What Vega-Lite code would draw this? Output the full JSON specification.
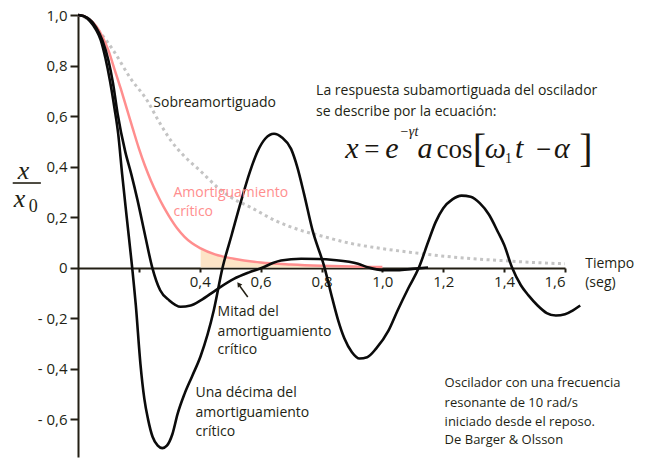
{
  "$schema": "https://vega.github.io/schema/vega-lite/v6.json",
  "width": 487,
  "height": 442,
  "autosize": {"type": "none"},
  "padding": {"left": 78, "top": 15, "right": 84, "bottom": 7},
  "background": "white",
  "config": {"view": {"stroke": null}, "font": "Open Sans"},
  "datasets": {
    "curves": [
      {"s": "sobre", "t": 0, "v": 1.0}, {"s": "sobre", "t": 0.03, "v": 0.985}, {"s": "sobre", "t": 0.073, "v": 0.93}, {"s": "sobre", "t": 0.116, "v": 0.86}, {"s": "sobre", "t": 0.172, "v": 0.75}, {"s": "sobre", "t": 0.228, "v": 0.66}, {"s": "sobre", "t": 0.265, "v": 0.58}, {"s": "sobre", "t": 0.304, "v": 0.505}, {"s": "sobre", "t": 0.35, "v": 0.44}, {"s": "sobre", "t": 0.4, "v": 0.385}, {"s": "sobre", "t": 0.459, "v": 0.317}, {"s": "sobre", "t": 0.5, "v": 0.28}, {"s": "sobre", "t": 0.568, "v": 0.238}, {"s": "sobre", "t": 0.65, "v": 0.185}, {"s": "sobre", "t": 0.733, "v": 0.147}, {"s": "sobre", "t": 0.8, "v": 0.125}, {"s": "sobre", "t": 0.898, "v": 0.095}, {"s": "sobre", "t": 1.0, "v": 0.075}, {"s": "sobre", "t": 1.096, "v": 0.06}, {"s": "sobre", "t": 1.228, "v": 0.042}, {"s": "sobre", "t": 1.3, "v": 0.035}, {"s": "sobre", "t": 1.4, "v": 0.027}, {"s": "sobre", "t": 1.5, "v": 0.02}, {"s": "sobre", "t": 1.6, "v": 0.015},
      {"s": "critico", "t": 0, "v": 1.0}, {"s": "critico", "t": 0.02, "v": 0.995}, {"s": "critico", "t": 0.04, "v": 0.98}, {"s": "critico", "t": 0.06, "v": 0.955}, {"s": "critico", "t": 0.08, "v": 0.915}, {"s": "critico", "t": 0.1, "v": 0.86}, {"s": "critico", "t": 0.12, "v": 0.785}, {"s": "critico", "t": 0.14, "v": 0.71}, {"s": "critico", "t": 0.16, "v": 0.63}, {"s": "critico", "t": 0.18, "v": 0.55}, {"s": "critico", "t": 0.2, "v": 0.472}, {"s": "critico", "t": 0.22, "v": 0.403}, {"s": "critico", "t": 0.24, "v": 0.343}, {"s": "critico", "t": 0.26, "v": 0.29}, {"s": "critico", "t": 0.28, "v": 0.243}, {"s": "critico", "t": 0.3, "v": 0.202}, {"s": "critico", "t": 0.325, "v": 0.157}, {"s": "critico", "t": 0.35, "v": 0.122}, {"s": "critico", "t": 0.375, "v": 0.096}, {"s": "critico", "t": 0.403, "v": 0.076}, {"s": "critico", "t": 0.45, "v": 0.052}, {"s": "critico", "t": 0.512, "v": 0.035}, {"s": "critico", "t": 0.6, "v": 0.02}, {"s": "critico", "t": 0.7, "v": 0.012}, {"s": "critico", "t": 0.8, "v": 0.007}, {"s": "critico", "t": 0.9, "v": 0.004}, {"s": "critico", "t": 1.0, "v": 0.002},
      {"s": "mitad", "t": 0, "v": 1.0}, {"s": "mitad", "t": 0.03, "v": 0.99}, {"s": "mitad", "t": 0.06, "v": 0.95}, {"s": "mitad", "t": 0.08, "v": 0.9}, {"s": "mitad", "t": 0.1, "v": 0.82}, {"s": "mitad", "t": 0.115, "v": 0.73}, {"s": "mitad", "t": 0.13, "v": 0.61}, {"s": "mitad", "t": 0.155, "v": 0.46}, {"s": "mitad", "t": 0.175, "v": 0.37}, {"s": "mitad", "t": 0.195, "v": 0.27}, {"s": "mitad", "t": 0.22, "v": 0.13}, {"s": "mitad", "t": 0.244, "v": 0.0}, {"s": "mitad", "t": 0.27, "v": -0.09}, {"s": "mitad", "t": 0.3, "v": -0.13}, {"s": "mitad", "t": 0.337, "v": -0.155}, {"s": "mitad", "t": 0.37, "v": -0.15}, {"s": "mitad", "t": 0.403, "v": -0.13}, {"s": "mitad", "t": 0.452, "v": -0.09}, {"s": "mitad", "t": 0.512, "v": -0.045}, {"s": "mitad", "t": 0.56, "v": -0.02}, {"s": "mitad", "t": 0.607, "v": 0.0}, {"s": "mitad", "t": 0.64, "v": 0.018}, {"s": "mitad", "t": 0.667, "v": 0.028}, {"s": "mitad", "t": 0.733, "v": 0.035}, {"s": "mitad", "t": 0.79, "v": 0.034}, {"s": "mitad", "t": 0.84, "v": 0.03}, {"s": "mitad", "t": 0.92, "v": 0.015}, {"s": "mitad", "t": 0.955, "v": 0.0}, {"s": "mitad", "t": 1.0, "v": -0.01}, {"s": "mitad", "t": 1.05, "v": -0.01}, {"s": "mitad", "t": 1.1, "v": -0.005}, {"s": "mitad", "t": 1.15, "v": 0.0},
      {"s": "decima", "t": 0, "v": 1.0}, {"s": "decima", "t": 0.02, "v": 0.995}, {"s": "decima", "t": 0.04, "v": 0.975}, {"s": "decima", "t": 0.06, "v": 0.94}, {"s": "decima", "t": 0.075, "v": 0.9}, {"s": "decima", "t": 0.09, "v": 0.83}, {"s": "decima", "t": 0.105, "v": 0.74}, {"s": "decima", "t": 0.12, "v": 0.63}, {"s": "decima", "t": 0.132, "v": 0.53}, {"s": "decima", "t": 0.145, "v": 0.37}, {"s": "decima", "t": 0.16, "v": 0.2}, {"s": "decima", "t": 0.178, "v": 0.0}, {"s": "decima", "t": 0.19, "v": -0.15}, {"s": "decima", "t": 0.205, "v": -0.38}, {"s": "decima", "t": 0.218, "v": -0.52}, {"s": "decima", "t": 0.23, "v": -0.6}, {"s": "decima", "t": 0.245, "v": -0.67}, {"s": "decima", "t": 0.262, "v": -0.705}, {"s": "decima", "t": 0.277, "v": -0.715}, {"s": "decima", "t": 0.292, "v": -0.705}, {"s": "decima", "t": 0.31, "v": -0.66}, {"s": "decima", "t": 0.327, "v": -0.58}, {"s": "decima", "t": 0.35, "v": -0.5}, {"s": "decima", "t": 0.375, "v": -0.43}, {"s": "decima", "t": 0.403, "v": -0.35}, {"s": "decima", "t": 0.446, "v": -0.17}, {"s": "decima", "t": 0.475, "v": 0.0}, {"s": "decima", "t": 0.505, "v": 0.13}, {"s": "decima", "t": 0.535, "v": 0.26}, {"s": "decima", "t": 0.565, "v": 0.38}, {"s": "decima", "t": 0.59, "v": 0.46}, {"s": "decima", "t": 0.615, "v": 0.51}, {"s": "decima", "t": 0.644, "v": 0.53}, {"s": "decima", "t": 0.67, "v": 0.515}, {"s": "decima", "t": 0.7, "v": 0.47}, {"s": "decima", "t": 0.72, "v": 0.4}, {"s": "decima", "t": 0.743, "v": 0.29}, {"s": "decima", "t": 0.77, "v": 0.15}, {"s": "decima", "t": 0.81, "v": 0.0}, {"s": "decima", "t": 0.835, "v": -0.12}, {"s": "decima", "t": 0.855, "v": -0.21}, {"s": "decima", "t": 0.875, "v": -0.28}, {"s": "decima", "t": 0.9, "v": -0.335}, {"s": "decima", "t": 0.925, "v": -0.36}, {"s": "decima", "t": 0.95, "v": -0.355}, {"s": "decima", "t": 0.98, "v": -0.32}, {"s": "decima", "t": 1.02, "v": -0.25}, {"s": "decima", "t": 1.05, "v": -0.17}, {"s": "decima", "t": 1.086, "v": -0.08}, {"s": "decima", "t": 1.12, "v": 0.0}, {"s": "decima", "t": 1.15, "v": 0.1}, {"s": "decima", "t": 1.175, "v": 0.18}, {"s": "decima", "t": 1.2, "v": 0.235}, {"s": "decima", "t": 1.23, "v": 0.27}, {"s": "decima", "t": 1.26, "v": 0.285}, {"s": "decima", "t": 1.29, "v": 0.28}, {"s": "decima", "t": 1.32, "v": 0.255}, {"s": "decima", "t": 1.35, "v": 0.21}, {"s": "decima", "t": 1.38, "v": 0.14}, {"s": "decima", "t": 1.4, "v": 0.09}, {"s": "decima", "t": 1.426, "v": 0.0}, {"s": "decima", "t": 1.455, "v": -0.07}, {"s": "decima", "t": 1.48, "v": -0.11}, {"s": "decima", "t": 1.51, "v": -0.15}, {"s": "decima", "t": 1.54, "v": -0.18}, {"s": "decima", "t": 1.57, "v": -0.19}, {"s": "decima", "t": 1.6, "v": -0.185}, {"s": "decima", "t": 1.625, "v": -0.17}, {"s": "decima", "t": 1.65, "v": -0.15}
    ],
    "notes": [
      {"t": 0.2475, "v": 0.6516, "text": "Sobreamortiguado"},
      {"t": 0.7822, "v": 0.6991, "text": "La respuesta subamortiguada del oscilador"},
      {"t": 0.7822, "v": 0.616, "text": "se describe por la ecuación:"},
      {"t": 0.4587, "v": -0.1759, "text": "Mitad del"},
      {"t": 0.4587, "v": -0.2551, "text": "amortiguamiento"},
      {"t": 0.4587, "v": -0.3264, "text": "crítico"},
      {"t": 0.3861, "v": -0.4966, "text": "Una décima del"},
      {"t": 0.3861, "v": -0.5758, "text": "amortiguamiento"},
      {"t": 0.3861, "v": -0.651, "text": "crítico"},
      {"t": 1.6665, "v": 0.0141, "text": "Tiempo"},
      {"t": 1.6665, "v": -0.061, "text": "(seg)"}
    ],
    "credits": [
      {"t": 1.2045, "v": -0.457, "text": "Oscilador con una frecuencia"},
      {"t": 1.2045, "v": -0.5362, "text": "resonante de 10 rad/s"},
      {"t": 1.2045, "v": -0.6114, "text": "iniciado desde el reposo."},
      {"t": 1.2045, "v": -0.6827, "text": "De  Barger & Olsson"}
    ],
    "pinknotes": [
      {"t": 0.3135, "v": 0.2952, "text": "Amortiguamiento"},
      {"t": 0.3135, "v": 0.22, "text": "crítico"}
    ],
    "eqItalic": [
      {"t": 0.8778, "v": 0.4338, "text": "x"},
      {"t": 1.0098, "v": 0.4338, "text": "e"},
      {"t": 1.1154, "v": 0.4338, "text": "a"},
      {"t": 1.3365, "v": 0.4338, "text": "ω"},
      {"t": 1.4355, "v": 0.4338, "text": "t"},
      {"t": 1.5642, "v": 0.4338, "text": "α"}
    ],
    "eqUpright": [
      {"t": 0.9405, "v": 0.4338, "text": "="},
      {"t": 1.1781, "v": 0.4338, "text": "cos"},
      {"t": 1.5048, "v": 0.4338, "text": "−"}
    ],
    "eqBracket": [
      {"t": 1.2969, "v": 0.418, "text": "["},
      {"t": 1.6467, "v": 0.418, "text": "]"}
    ],
    "eqSup": [{"t": 1.0560, "v": 0.521, "text": "−γt"}],
    "eqSub": [{"t": 1.4025, "v": 0.414, "text": "1"}],
    "ytitle": [
      {"t": -0.198, "v": 0.3507, "text": "x"},
      {"t": -0.2112, "v": 0.2398, "text": "x"}
    ],
    "ysub": [{"t": -0.1617, "v": 0.22, "text": "0"}],
    "ybar": [{"t": -0.2145, "t2": -0.122, "v": 0.3348}],
    "arrow": [{"t": 0.5577, "v": -0.1165, "t2": 0.5314, "v2": -0.073}],
    "arrowhead": [{"t": 0.528, "v": -0.066}]
  },
  "encoding": {
    "x": {
      "field": "t", "type": "quantitative",
      "scale": {"domain": [0, 1.6], "nice": false, "zero": false},
      "axis": {
        "orient": "bottom", "offset": -189, "title": null,
        "values": [0.2, 0.4, 0.6, 0.8, 1.0, 1.2, 1.4, 1.6],
        "labelExpr": "datum.value < 0.3 ? '' : replace(format(datum.value, '.1f'), '.', ',')",
        "grid": false, "domainColor": "#231f14", "domainWidth": 2,
        "tickColor": "#231f14", "tickWidth": 2, "tickSize": 4,
        "labelFont": "Open Sans", "labelFontSize": 15, "labelColor": "#231f14", "labelPadding": 2
      }
    },
    "y": {
      "field": "v", "type": "quantitative",
      "scale": {"domain": [-0.75, 1.0], "nice": false, "zero": false},
      "axis": {
        "title": null,
        "values": [1.0, 0.8, 0.6, 0.4, 0.2, 0, -0.2, -0.4, -0.6],
        "labelExpr": "datum.value == 0 ? '0' : (datum.value < 0 ? '- ' : '') + replace(format(abs(datum.value), '.1f'), '.', ',')",
        "grid": false, "domainColor": "#231f14", "domainWidth": 2,
        "tickColor": "#231f14", "tickWidth": 2, "tickSize": 8,
        "labelFont": "Open Sans", "labelFontSize": 15, "labelColor": "#231f14", "labelPadding": 3
      }
    }
  },
  "layer": [
    {
      "data": {"name": "curves"},
      "transform": [{"filter": "datum.s == 'critico' && datum.t >= 0.4"}],
      "mark": {"type": "area", "color": "#fde4c6", "interpolate": "monotone"},
      "encoding": {"y2": {"datum": 0}}
    },
    {
      "data": {"name": "curves"},
      "transform": [{"filter": "datum.s == 'sobre'"}],
      "mark": {"type": "line", "color": "#c4c4c4", "strokeWidth": 3, "strokeDash": [3, 3.5], "interpolate": "monotone"}
    },
    {
      "data": {"name": "curves"},
      "transform": [{"filter": "datum.s == 'critico'"}],
      "mark": {"type": "line", "color": "#ff8e8e", "strokeWidth": 2.5, "interpolate": "monotone"}
    },
    {
      "data": {"name": "curves"},
      "transform": [{"filter": "datum.s == 'mitad'"}],
      "mark": {"type": "line", "color": "#0b0b0b", "strokeWidth": 2.6, "interpolate": "monotone"}
    },
    {
      "data": {"name": "curves"},
      "transform": [{"filter": "datum.s == 'decima'"}],
      "mark": {"type": "line", "color": "#0b0b0b", "strokeWidth": 2.6, "interpolate": "monotone"}
    },
    {
      "data": {"name": "notes"},
      "mark": {"type": "text", "align": "left", "baseline": "middle", "font": "Open Sans", "fontSize": 14, "color": "#231f14"},
      "encoding": {"text": {"field": "text"}}
    },
    {
      "data": {"name": "credits"},
      "mark": {"type": "text", "align": "left", "baseline": "middle", "font": "Open Sans", "fontSize": 13, "color": "#231f14"},
      "encoding": {"text": {"field": "text"}}
    },
    {
      "data": {"name": "pinknotes"},
      "mark": {"type": "text", "align": "left", "baseline": "middle", "font": "Open Sans", "fontSize": 14, "color": "#ff8e8e"},
      "encoding": {"text": {"field": "text"}}
    },
    {
      "data": {"name": "eqItalic"},
      "mark": {"type": "text", "align": "left", "baseline": "alphabetic", "font": "Liberation Serif", "fontStyle": "italic", "fontSize": 30, "color": "#1a1610"},
      "encoding": {"text": {"field": "text"}}
    },
    {
      "data": {"name": "eqUpright"},
      "mark": {"type": "text", "align": "left", "baseline": "alphabetic", "font": "Liberation Serif", "fontSize": 27, "color": "#1a1610"},
      "encoding": {"text": {"field": "text"}}
    },
    {
      "data": {"name": "eqBracket"},
      "mark": {"type": "text", "align": "left", "baseline": "alphabetic", "font": "Liberation Serif", "fontSize": 40, "color": "#1a1610"},
      "encoding": {"text": {"field": "text"}}
    },
    {
      "data": {"name": "eqSup"},
      "mark": {"type": "text", "align": "left", "baseline": "alphabetic", "font": "Liberation Serif", "fontStyle": "italic", "fontSize": 14, "color": "#1a1610"},
      "encoding": {"text": {"field": "text"}}
    },
    {
      "data": {"name": "eqSub"},
      "mark": {"type": "text", "align": "left", "baseline": "alphabetic", "font": "Liberation Serif", "fontSize": 14, "color": "#1a1610"},
      "encoding": {"text": {"field": "text"}}
    },
    {
      "data": {"name": "ytitle"},
      "mark": {"type": "text", "align": "left", "baseline": "alphabetic", "font": "Liberation Serif", "fontStyle": "italic", "fontSize": 26, "color": "#231f14"},
      "encoding": {"text": {"field": "text"}}
    },
    {
      "data": {"name": "ysub"},
      "mark": {"type": "text", "align": "left", "baseline": "alphabetic", "font": "Liberation Serif", "fontSize": 18, "color": "#231f14"},
      "encoding": {"text": {"field": "text"}}
    },
    {
      "data": {"name": "ybar"},
      "mark": {"type": "rule", "color": "#231f14", "strokeWidth": 1.6},
      "encoding": {"x2": {"field": "t2"}}
    },
    {
      "data": {"name": "arrow"},
      "mark": {"type": "rule", "color": "#231f14", "strokeWidth": 1.5},
      "encoding": {"x2": {"field": "t2"}, "y2": {"field": "v2"}}
    },
    {
      "data": {"name": "arrowhead"},
      "mark": {"type": "point", "shape": "triangle-up", "filled": true, "size": 30, "angle": -36, "color": "#231f14", "opacity": 1}
    }
  ]
}
